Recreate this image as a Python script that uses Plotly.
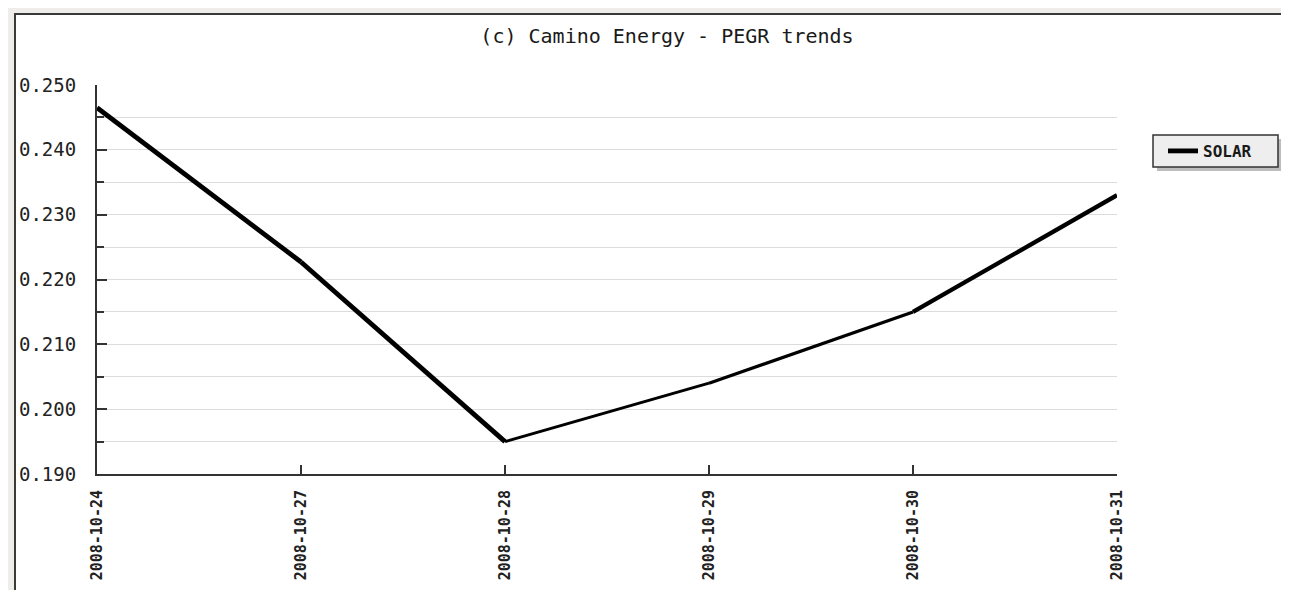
import plotly.graph_objects as go

# ---- data ----
dates = ["2008-10-24", "2008-10-27", "2008-10-28", "2008-10-29", "2008-10-30", "2008-10-31"]
solar = [0.2465, 0.2227, 0.1950, 0.2040, 0.2150, 0.2330]
series_name = "SOLAR"
title_text = "(c) Camino Energy - PEGR trends"

# style: per-segment pen widths as seen in the reference
seg_widths = [4.8, 4.8, 2.9, 3.2, 4.3]

# page body has an 8px margin; work in figure pixel coordinates (screen - 8)
OFF = 8
W, H = 1289 - 2 * OFF, 598 - 2 * OFF
L, R, T, B = 97 - OFF, 1117 - OFF, 85 - OFF, 474 - OFF


def px(xs):
    """screen x -> paper x"""
    return (xs - OFF - L) / (R - L)


def py(ys):
    """screen y -> paper y"""
    return (B - (ys - OFF)) / (B - T)


fig = go.Figure()
for i in range(len(dates) - 1):
    fig.add_trace(go.Scatter(
        x=dates[i:i + 2], y=solar[i:i + 2], mode="lines",
        line=dict(color="#000000", width=seg_widths[i]),
        name=series_name, legendgroup="solar", showlegend=(i == 0),
        hoverinfo="x+y",
    ))

shapes = [
    # white panel with dark border
    dict(type="rect", xref="paper", yref="paper", layer="below",
         x0=px(15), x1=px(1400), y0=py(700), y1=py(14),
         fillcolor="#ffffff", line=dict(color="#3a3a3a", width=2)),
    # legend shadow
    dict(type="rect", xref="paper", yref="paper", layer="above",
         x0=px(1157), x1=px(1282), y0=py(171), y1=py(139),
         fillcolor="#bdbdbd", line=dict(width=0)),
    # legend box
    dict(type="rect", xref="paper", yref="paper", layer="above",
         x0=px(1153), x1=px(1278), y0=py(167), y1=py(135),
         fillcolor="#eeeeee", line=dict(color="#333333", width=1.5)),
]

mono = "DejaVu Sans Mono"

fig.update_layout(
    width=W, height=H,
    margin=dict(l=L, r=W - R, t=T, b=H - B, pad=0, autoexpand=False),
    paper_bgcolor="#efede9",
    plot_bgcolor="rgba(0,0,0,0)",
    title=dict(text=title_text, x=(667 - OFF) / W, xref="container", xanchor="center",
               y=1 - (36 - OFF) / H, yref="container", yanchor="middle",
               font=dict(family=mono, size=20, color="#1a1a1a")),
    shapes=shapes,
    showlegend=True,
    legend=dict(x=px(1163), y=py(151), xanchor="left", yanchor="middle",
                bgcolor="rgba(0,0,0,0)", borderwidth=0, itemwidth=30,
                font=dict(family=mono, size=16, color="#1a1a1a", weight="bold")),
    xaxis=dict(
        type="category", range=[0, len(dates) - 1], automargin=False,
        showline=True, linecolor="#333333", linewidth=2,
        ticks="inside", ticklen=9, tickwidth=1.5, tickcolor="#333333",
        tickangle=-90, ticklabelstandoff=8,
        tickfont=dict(family=mono, size=15, color="#222222", weight="bold"),
        showgrid=False, zeroline=False, fixedrange=True,
    ),
    yaxis=dict(
        range=[0.19, 0.25], dtick=0.01, tick0=0.19, tickformat=".3f", automargin=False,
        showline=True, linecolor="#333333", linewidth=2,
        ticks="inside", ticklen=10, tickwidth=1.5, tickcolor="#333333",
        ticklabelstandoff=15,
        tickfont=dict(family=mono, size=19, color="#222222"),
        showgrid=True, gridcolor="#dcdcdc", gridwidth=1,
        minor=dict(dtick=0.005, tick0=0.19, ticks="inside", ticklen=7, tickwidth=1.5,
                   tickcolor="#333333", showgrid=True, gridcolor="#dcdcdc", gridwidth=1),
        zeroline=False, fixedrange=True,
    ),
)

fig.write_html("out.html")
